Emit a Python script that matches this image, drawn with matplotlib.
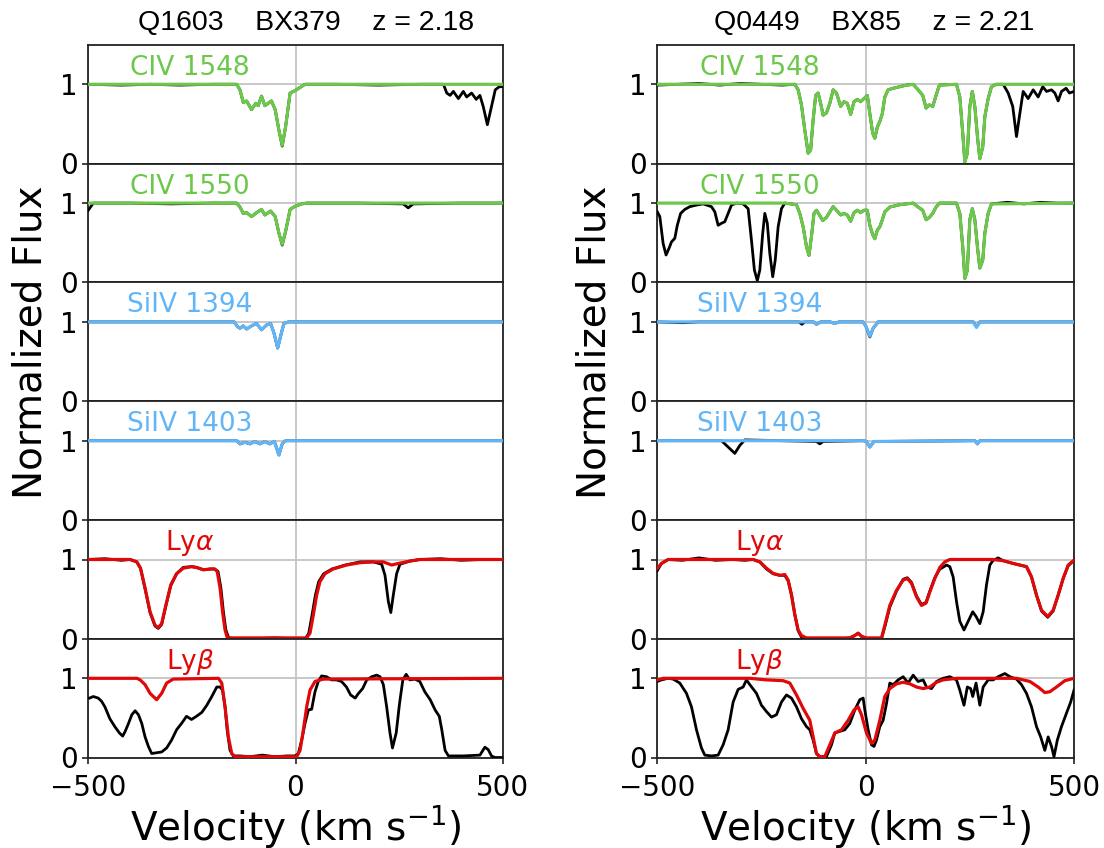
import matplotlib
matplotlib.use('Agg')
import matplotlib.pyplot as plt

plt.rcParams['font.family'] = 'DejaVu Sans'
plt.rcParams['font.size'] = 20

GREEN = '#6cc84a'
BLUE = '#62b6f7'
RED = '#e00808'

# ---------------- Q1603 BX379 (left column) ----------------
l_civ1548_v = [-500, -420, -350, -280, -200, -142, -134, -126, -118, -106, -96, -90, -82, -74, -58, -49, -40, -32,
               -24, -13, -1, 11, 23, 100, 200, 300, 357, 365, 373, 381, 393, 405, 413, 425, 436, 445, 453, 463,
               473, 482, 492, 500]
l_civ1548_f = [1.0, 0.99, 1.0, 0.99, 1.0, 1.0, 0.93, 0.77, 0.79, 0.68, 0.76, 0.73, 0.85, 0.73, 0.79, 0.68, 0.42,
               0.22, 0.46, 0.89, 0.92, 0.96, 1.0, 1.0, 0.99, 1.0, 1.0, 0.89, 0.86, 0.91, 0.82, 0.91, 0.84, 0.89,
               0.81, 0.86, 0.72, 0.49, 0.72, 0.93, 0.97, 0.97]
l_civ1548_mv = [-500, -142, -134, -126, -118, -106, -96, -90, -82, -74, -58, -49, -40, -32, -24, -13, -1, 11, 23, 500]
l_civ1548_mf = [1.0, 1.0, 0.93, 0.77, 0.79, 0.68, 0.76, 0.73, 0.85, 0.73, 0.79, 0.68, 0.42, 0.23, 0.46, 0.89,
                0.92, 0.96, 1.0, 1.0]

l_civ1550_v = [-500, -488, -400, -300, -200, -142, -134, -126, -118, -106, -94, -82, -74, -60, -49, -40, -32, -24,
               -13, -1, 15, 27, 150, 260, 272, 284, 400, 500]
l_civ1550_f = [0.91, 1.0, 1.0, 0.99, 1.0, 1.0, 0.95, 0.87, 0.88, 0.83, 0.88, 0.92, 0.85, 0.90, 0.83, 0.62, 0.47,
               0.64, 0.92, 0.96, 0.99, 1.0, 1.0, 0.99, 0.94, 0.99, 1.0, 1.0]
l_civ1550_mv = [-500, -142, -134, -126, -118, -106, -94, -82, -74, -60, -49, -40, -32, -24, -13, -1, 15, 27, 500]
l_civ1550_mf = [1.0, 1.0, 0.95, 0.87, 0.88, 0.83, 0.88, 0.92, 0.85, 0.90, 0.83, 0.62, 0.48, 0.64, 0.92, 0.96,
                0.99, 1.0, 1.0]

l_siiv1394_v = [-500, -148, -140, -134, -126, -118, -106, -94, -82, -70, -60, -52, -43, -35, -28, -17, 500]
l_siiv1394_f = [1.0, 1.0, 0.94, 0.92, 0.95, 0.91, 0.95, 0.98, 0.90, 0.96, 0.98, 0.86, 0.67, 0.84, 0.98, 1.0, 1.0]

l_siiv1403_v = [-500, -142, -134, -122, -110, -98, -86, -74, -62, -51, -40, -32, -24, 500]
l_siiv1403_f = [1.0, 1.0, 0.96, 0.98, 0.96, 0.99, 0.96, 0.99, 0.96, 0.99, 0.82, 0.96, 1.0, 1.0]

l_lya_v = [-500, -460, -420, -399, -383, -374, -363, -351, -339, -331, -323, -313, -301, -287, -271, -251, -239,
           -222, -206, -195, -187, -180, -174, -168, -162, -155, -100, -50, 0, 24, 32, 40, 48, 56, 68, 88, 120,
           156, 188, 208, 216, 224, 230, 236, 244, 252, 276, 300, 350, 400, 450, 500]
l_lya_f = [1.0, 1.01, 0.99, 1.0, 0.97, 0.89, 0.63, 0.33, 0.16, 0.13, 0.18, 0.41, 0.67, 0.82, 0.90, 0.91, 0.90,
           0.87, 0.88, 0.88, 0.85, 0.64, 0.34, 0.11, 0.02, 0.0, 0.0, 0.01, 0.0, 0.0, 0.07, 0.30, 0.55, 0.72, 0.82,
           0.88, 0.93, 0.97, 0.97, 0.94, 0.80, 0.47, 0.33, 0.55, 0.82, 0.94, 0.98, 1.0, 1.01, 0.99, 1.0, 1.0]
l_lya_mv = [-500, -399, -383, -374, -363, -351, -339, -331, -323, -313, -301, -287, -271, -251, -239, -222, -206,
            -195, -189, -182, -176, -170, -165, -158, 27, 35, 43, 51, 59, 71, 91, 123, 156, 188, 212, 232, 248,
            276, 300, 500]
l_lya_mf = [1.0, 1.0, 0.97, 0.89, 0.64, 0.34, 0.17, 0.14, 0.19, 0.42, 0.68, 0.82, 0.89, 0.91, 0.90, 0.87, 0.88,
            0.88, 0.85, 0.64, 0.34, 0.11, 0.02, 0.01, 0.01, 0.07, 0.30, 0.55, 0.72, 0.82, 0.88, 0.93, 0.96, 0.97,
            0.97, 0.93, 0.95, 0.98, 1.0, 1.0]

l_lyb_v = [-497, -488, -476, -468, -460, -448, -436, -425, -417, -411, -403, -395, -387, -379, -371, -363, -355,
           -347, -335, -323, -311, -299, -287, -275, -263, -251, -239, -226, -214, -202, -190, -182, -176, -170,
           -165, -158, -150, -134, -110, -80, -50, -20, -1, 7, 15, 23, 31, 39, 47, 55, 63, 75, 87, 99, 111, 123,
           133, 144, 152, 162, 172, 184, 196, 204, 212, 220, 228, 234, 243, 251, 259, 267, 276, 288, 300, 312,
           325, 337, 347, 353, 361, 369, 405, 445, 457, 465, 473, 481, 497]
l_lyb_f = [0.75, 0.77, 0.75, 0.71, 0.64, 0.49, 0.39, 0.31, 0.27, 0.33, 0.43, 0.54, 0.59, 0.54, 0.43, 0.26, 0.14,
           0.05, 0.06, 0.07, 0.12, 0.22, 0.35, 0.43, 0.52, 0.48, 0.52, 0.57, 0.66, 0.77, 0.89, 0.89, 0.85, 0.64,
           0.35, 0.09, 0.02, 0.02, 0.01, 0.03, 0.01, 0.02, 0.02, 0.05, 0.22, 0.43, 0.60, 0.61, 0.83, 0.96, 1.03,
           1.02, 0.98, 0.98, 0.96, 0.89, 0.79, 0.75, 0.81, 0.87, 0.98, 1.02, 1.04, 1.02, 0.92, 0.64, 0.31, 0.12,
           0.31, 0.68, 0.98, 1.05, 0.98, 0.99, 0.96, 0.83, 0.73, 0.60, 0.52, 0.35, 0.09, 0.02, 0.02, 0.03, 0.13,
           0.10, 0.02, 0.0, 0.0]
l_lyb_mv = [-500, -383, -375, -363, -351, -335, -323, -311, -295, -186, -178, -170, -162, -154, -146, 3, 11, 19,
            27, 35, 47, 67, 500]
l_lyb_mf = [1.0, 1.0, 0.98, 0.92, 0.81, 0.73, 0.81, 0.94, 0.99, 1.0, 0.94, 0.64, 0.26, 0.05, 0.01, 0.01, 0.09,
            0.35, 0.64, 0.85, 0.96, 0.99, 1.0]

# ---------------- Q0449 BX85 (right column) ----------------
r_civ1548_mv = [-500, -170, -162, -154, -146, -138, -132, -126, -120, -114, -108, -102, -94, -86, -78, -70, -60,
                -52, -44, -36, -28, -20, -12, -4, 4, 10, 17, 22, 28, 34, 40, 46, 54, 66, 82, 98, 114, 126, 137,
                145, 153, 161, 169, 177, 218, 226, 233, 238, 244, 250, 256, 262, 269, 274, 281, 286, 294, 302,
                314, 500]
r_civ1548_mf = [1.0, 1.0, 0.93, 0.74, 0.42, 0.13, 0.17, 0.55, 0.86, 0.89, 0.76, 0.61, 0.64, 0.76, 0.93, 0.89,
                0.72, 0.78, 0.76, 0.62, 0.78, 0.81, 0.78, 0.82, 0.86, 0.63, 0.38, 0.32, 0.46, 0.53, 0.63, 0.84,
                0.93, 0.95, 0.97, 0.99, 1.0, 0.93, 0.86, 0.70, 0.74, 0.72, 0.86, 0.99, 1.0, 0.84, 0.38, 0.02, 0.13,
                0.72, 0.91, 0.72, 0.30, 0.06, 0.21, 0.59, 0.82, 0.97, 1.0, 1.0]
r_civ1548_v = [-500, -450, -400, -350, -300, -250, -200] + r_civ1548_mv[1:-1] + \
              [330, 342, 353, 362, 370, 378, 390, 402, 414, 425, 434, 446, 454, 462, 470, 481, 489, 500]
r_civ1548_f = [0.99, 1.0, 1.01, 0.99, 1.01, 1.0, 0.99] + r_civ1548_mf[1:-1] + \
              [1.0, 0.89, 0.72, 0.34, 0.63, 0.91, 0.82, 0.93, 0.84, 0.97, 0.91, 0.93, 0.89, 0.79, 0.91, 0.95,
               0.89, 0.91]

r_civ1550_mv = [-500, -194, -166, -158, -150, -142, -136, -130, -124, -118, -111, -103, -94, -86, -78, -70, -60,
                -52, -44, -36, -28, -20, -12, -4, 4, 10, 17, 22, 28, 34, 40, 46, 58, 82, 114, 126, 137, 145, 153,
                161, 169, 177, 218, 226, 233, 238, 244, 250, 256, 262, 269, 274, 281, 286, 294, 302, 500]
r_civ1550_mf = [1.0, 1.0, 0.98, 0.87, 0.70, 0.45, 0.34, 0.58, 0.87, 0.91, 0.85, 0.78, 0.82, 0.89, 0.955, 0.91,
                0.85, 0.87, 0.85, 0.77, 0.88, 0.91, 0.88, 0.91, 0.91, 0.72, 0.60, 0.55, 0.66, 0.70, 0.79, 0.89,
                0.95, 0.98, 1.0, 0.95, 0.91, 0.79, 0.82, 0.87, 0.95, 1.0, 1.0, 0.87, 0.45, 0.05, 0.15, 0.79, 0.93,
                0.79, 0.41, 0.18, 0.28, 0.62, 0.87, 0.99, 1.0]
r_civ1550_v = [-500, -494, -486, -479, -471, -466, -458, -452, -444, -434, -422, -406, -390, -370, -362, -354,
               -346, -338, -330, -322, -310, -294, -282, -274, -267, -260, -254, -247, -242, -236, -230, -223,
               -217, -210, -202] + r_civ1550_mv[1:-1] + [340, 380, 420, 460, 500]
r_civ1550_f = [0.89, 0.83, 0.49, 0.345, 0.44, 0.51, 0.555, 0.72, 0.87, 0.92, 0.955, 0.975, 0.99, 0.955, 0.89,
               0.72, 0.745, 0.765, 0.87, 0.975, 1.0, 0.99, 0.93, 0.53, 0.155, 0.02, 0.155, 0.62, 0.87, 0.745,
               0.365, 0.07, 0.28, 0.70, 0.93] + r_civ1550_mf[1:-1] + [1.01, 0.99, 1.01, 1.0, 1.0]

r_siiv1394_v = [-500, -440, -400, -300, -160, -153, -146, -125, -118, -108, -85, -74, -64, -6, 1, 10, 18, 30,
                120, 250, 258, 266, 274, 400, 500]
r_siiv1394_f = [1.0, 0.99, 1.0, 1.0, 1.0, 0.97, 1.0, 1.0, 0.97, 1.0, 1.0, 0.98, 1.0, 1.0, 0.94, 0.81, 0.92,
                1.0, 1.0, 1.0, 1.0, 0.94, 1.0, 1.0, 1.0]
r_siiv1394_mv = [-500, -125, -118, -108, -85, -74, -64, -6, 1, 10, 18, 30, 250, 258, 266, 274, 500]
r_siiv1394_mf = [1.0, 1.0, 0.97, 1.0, 1.0, 0.98, 1.0, 1.0, 0.94, 0.82, 0.92, 1.0, 1.0, 1.0, 0.93, 1.0, 1.0]

r_siiv1403_v = [-500, -346, -330, -314, -302, -290, -200, -118, -110, -102, -6, 2, 10, 20, 262, 268, 274, 500]
r_siiv1403_f = [1.0, 1.0, 0.92, 0.84, 0.94, 1.01, 1.0, 0.99, 0.96, 0.99, 1.0, 0.99, 0.92, 0.99, 1.0, 0.96,
                1.0, 1.0]
r_siiv1403_mv = [-500, -6, 2, 10, 20, 262, 268, 274, 500]
r_siiv1403_mf = [1.0, 1.0, 0.99, 0.92, 0.99, 1.0, 0.96, 1.0, 1.0]

r_lya_v = [-500, -490, -474, -440, -400, -360, -320, -290, -270, -254, -238, -222, -206, -194, -186, -178, -170,
           -162, -154, -142, -100, -60, -38, -26, -18, -10, 2, 38, 46, 58, 74, 90, 100, 110, 122, 134, 145, 154,
           166, 178, 182, 194, 202, 210, 218, 226, 236, 246, 257, 265, 274, 282, 290, 298, 306, 318, 330, 354,
           370, 386, 398, 410, 422, 437, 450, 462, 474, 486, 500]
r_lya_f = [0.86, 0.95, 1.0, 0.99, 1.02, 0.99, 1.0, 0.99, 1.0, 0.97, 0.88, 0.82, 0.80, 0.80, 0.73, 0.56, 0.31,
           0.10, 0.02, 0.0, 0.0, 0.0, 0.01, 0.04, 0.07, 0.03, 0.0, 0.0, 0.15, 0.40, 0.60, 0.75, 0.77, 0.71, 0.54,
           0.43, 0.46, 0.60, 0.77, 0.88, 0.89, 0.93, 0.91, 0.78, 0.47, 0.22, 0.11, 0.22, 0.34, 0.28, 0.19, 0.34,
           0.68, 0.93, 0.99, 1.02, 0.985, 0.95, 0.93, 0.91, 0.78, 0.55, 0.35, 0.27, 0.35, 0.55, 0.76, 0.92, 0.99]
r_lya_mv = [-500, -490, -474, -270, -254, -238, -222, -206, -194, -186, -178, -170, -162, -154, -142, -38, -26,
            -18, -10, 2, 38, 46, 58, 74, 90, 100, 110, 122, 134, 145, 154, 166, 178, 190, 202, 306, 330, 354,
            370, 386, 398, 410, 422, 437, 450, 462, 474, 486, 500]
r_lya_mf = [0.89, 0.95, 1.0, 1.0, 0.97, 0.89, 0.825, 0.80, 0.81, 0.74, 0.55, 0.30, 0.11, 0.04, 0.01, 0.01, 0.04,
            0.07, 0.03, 0.01, 0.01, 0.17, 0.42, 0.61, 0.74, 0.76, 0.70, 0.53, 0.42, 0.45, 0.59, 0.76, 0.90, 0.97,
            1.0, 1.0, 0.985, 0.95, 0.93, 0.91, 0.78, 0.55, 0.36, 0.28, 0.36, 0.55, 0.76, 0.93, 0.99]

r_lyb_v = [-500, -490, -474, -462, -446, -430, -418, -406, -394, -386, -370, -354, -342, -330, -318, -306, -294,
           -286, -278, -262, -250, -238, -226, -214, -202, -190, -178, -166, -154, -142, -134, -126, -118, -110,
           -94, -82, -74, -62, -50, -38, -26, -14, -6, -2, 6, 14, 20, 26, 34, 42, 50, 58, 66, 78, 90, 102, 114,
           126, 138, 146, 158, 170, 186, 202, 218, 226, 236, 244, 252, 257, 265, 274, 282, 294, 306, 318, 334,
           346, 362, 374, 386, 398, 410, 420, 430, 438, 446, 452, 460, 470, 482, 492, 500]
r_lyb_f = [0.96, 0.98, 1.0, 0.99, 0.94, 0.81, 0.64, 0.35, 0.12, 0.03, 0.02, 0.03, 0.16, 0.35, 0.70, 0.86, 0.89,
           0.98, 0.92, 0.81, 0.66, 0.58, 0.51, 0.54, 0.70, 0.79, 0.75, 0.64, 0.49, 0.39, 0.35, 0.22, 0.05, 0.01,
           0.01, 0.16, 0.31, 0.33, 0.35, 0.43, 0.60, 0.73, 0.75, 0.60, 0.35, 0.16, 0.14, 0.22, 0.39, 0.47, 0.68,
           0.94, 0.92, 0.98, 1.02, 0.94, 1.04, 0.96, 0.98, 0.89, 0.87, 0.96, 1.0, 1.02, 0.98, 0.85, 0.66, 0.89,
           0.87, 0.77, 0.94, 0.66, 0.89, 0.98, 0.98, 1.02, 1.06, 1.02, 0.99, 0.92, 0.81, 0.64, 0.39, 0.26, 0.09,
           0.26, 0.14, 0.01, 0.22, 0.39, 0.56, 0.70, 0.85]
r_lyb_mv = [-500, -486, -278, -238, -198, -182, -166, -150, -134, -126, -118, -110, -98, -86, -74, -58, -42, -28,
            -18, -10, 2, 14, 22, 34, 46, 58, 74, 90, 106, 122, 138, 154, 170, 186, 218, 362, 394, 414, 430, 442,
            458, 478, 500]
r_lyb_mf = [0.98, 1.0, 1.0, 0.98, 0.97, 0.94, 0.79, 0.62, 0.47, 0.26, 0.05, 0.01, 0.01, 0.16, 0.31, 0.35, 0.47,
            0.60, 0.64, 0.54, 0.31, 0.18, 0.22, 0.47, 0.77, 0.87, 0.93, 0.95, 0.93, 0.89, 0.87, 0.89, 0.95, 0.98,
            1.0, 1.0, 0.96, 0.89, 0.82, 0.83, 0.89, 0.97, 1.0]

labels = ['CIV 1548', 'CIV 1550', 'SiIV 1394', 'SiIV 1403', r'Ly$\alpha$', r'Ly$\beta$']
colors = [GREEN, GREEN, BLUE, BLUE, RED, RED]

left_panels = [
    (l_civ1548_v, l_civ1548_f, l_civ1548_mv, l_civ1548_mf),
    (l_civ1550_v, l_civ1550_f, l_civ1550_mv, l_civ1550_mf),
    (l_siiv1394_v, l_siiv1394_f, l_siiv1394_v, l_siiv1394_f),
    (l_siiv1403_v, l_siiv1403_f, l_siiv1403_v, l_siiv1403_f),
    (l_lya_v, l_lya_f, l_lya_mv, l_lya_mf),
    (l_lyb_v, l_lyb_f, l_lyb_mv, l_lyb_mf),
]
right_panels = [
    (r_civ1548_v, r_civ1548_f, r_civ1548_mv, r_civ1548_mf),
    (r_civ1550_v, r_civ1550_f, r_civ1550_mv, r_civ1550_mf),
    (r_siiv1394_v, r_siiv1394_f, r_siiv1394_mv, r_siiv1394_mf),
    (r_siiv1403_v, r_siiv1403_f, r_siiv1403_mv, r_siiv1403_mf),
    (r_lya_v, r_lya_f, r_lya_mv, r_lya_mf),
    (r_lyb_v, r_lyb_f, r_lyb_mv, r_lyb_mf),
]

W, H = 1104, 848
fig = plt.figure(figsize=(W / 100, H / 100), dpi=100)

top_px = 44.7
panel_px = 118.8
columns = [
    (88.3, 414.4, left_panels, 'Q1603    BX379    z = 2.18', 306, 31),
    (657.3, 416.7, right_panels, 'Q0449    BX85    z = 2.21', 874, 595),
]

for x0, width, panels, title, title_x, ylab_x in columns:
    for k, (dv, df, mv, mf) in enumerate(panels):
        bottom_px = top_px + panel_px * (k + 1)
        ax = fig.add_axes([x0 / W, 1 - bottom_px / H, width / W, panel_px / H])
        ax.plot(dv, df, color='black', lw=2.0, zorder=3)
        ax.plot(mv, mf, color=colors[k], lw=2.3, zorder=4)
        ax.set_xlim(-500, 500)
        ax.set_ylim(0, 1.5)
        ax.set_xticks([-500, 0, 500])
        ax.set_yticks([0, 1])
        ax.grid(True, color='#c4c4c4', lw=1.3)
        ax.set_axisbelow(True)
        for sp in ax.spines.values():
            sp.set_linewidth(1.3)
            sp.set_color('#222222')
        ax.tick_params(direction='out', length=4, width=1.2, labelsize=20, color='#222222')
        ax.tick_params(axis='x', pad=8)
        if k < len(panels) - 1:
            ax.tick_params(bottom=False, labelbottom=False)
        ax.text(-255, 1.12, labels[k], color=colors[k], fontsize=19, ha='center', va='baseline')

    fig.text(title_x / W, 1 - 30 / H, title, ha='center', va='baseline', fontsize=20.5,
             family='Liberation Sans')
    fig.text(ylab_x / W, 1 - 342 / H, 'Normalized Flux', rotation=90, ha='center', va='center', fontsize=28)
    fig.text((x0 + width / 2) / W, 1 - 840 / H, 'Velocity (km s$^{-1}$)', ha='center', va='baseline',
             fontsize=28)

fig.savefig('out.png', dpi=100)
